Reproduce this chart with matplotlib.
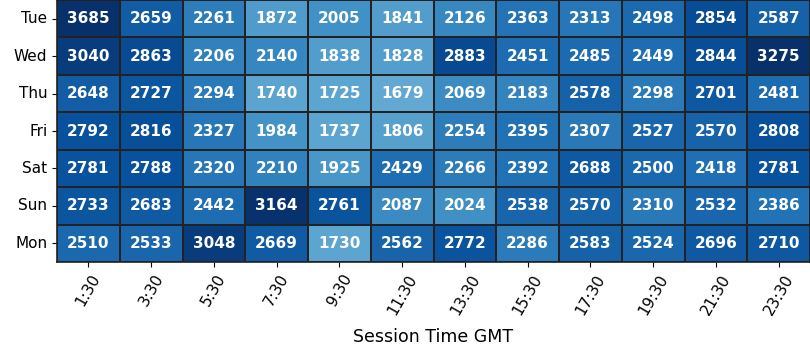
import matplotlib
matplotlib.use("Agg")
import matplotlib.pyplot as plt
import numpy as np
import pandas as pd
import seaborn as sns

# %% Data.
days = ["Tue", "Wed", "Thu", "Fri", "Sat", "Sun", "Mon"]
times = ["1:30", "3:30", "5:30", "7:30", "9:30", "11:30",
         "13:30", "15:30", "17:30", "19:30", "21:30", "23:30"]

tue = [3685, 2659, 2261, 1872, 2005, 1841, 2126, 2363, 2313, 2498, 2854, 2587]
wed = [3040, 2863, 2206, 2140, 1838, 1828, 2883, 2451, 2485, 2449, 2844, 3275]
thu = [2648, 2727, 2294, 1740, 1725, 1679, 2069, 2183, 2578, 2298, 2701, 2481]
fri = [2792, 2816, 2327, 1984, 1737, 1806, 2254, 2395, 2307, 2527, 2570, 2808]
sat = [2781, 2788, 2320, 2210, 1925, 2429, 2266, 2392, 2688, 2500, 2418, 2781]
sun = [2733, 2683, 2442, 3164, 2761, 2087, 2024, 2538, 2570, 2310, 2532, 2386]
mon = [2510, 2533, 3048, 2669, 1730, 2562, 2772, 2286, 2583, 2524, 2696, 2710]

df = pd.DataFrame([tue, wed, thu, fri, sat, sun, mon], index=days, columns=times)

# %% Plot.
fig = plt.figure(figsize=(8.1, 3.6), dpi=100)
ax = fig.add_axes([0.0704, 0.272, 0.9296, 0.728])

sns.heatmap(
    df,
    ax=ax,
    cmap="Blues",
    vmin=0,
    vmax=3200,
    annot=True,
    fmt="d",
    annot_kws={"color": "white", "fontweight": "bold", "fontsize": 11},
    linewidths=1.2,
    linecolor="#222222",
    cbar=False,
)

ax.set_xlabel("Session Time GMT", fontsize=12.5, labelpad=8)
ax.set_ylabel("")
ax.tick_params(axis="x", labelsize=11, rotation=60)
ax.tick_params(axis="y", labelsize=11, rotation=0)

# Frame around the cells.
for side in ax.spines.values():
    side.set_visible(True)
    side.set_color("#222222")
    side.set_linewidth(1.2)

fig.savefig("out.png", dpi=100)
